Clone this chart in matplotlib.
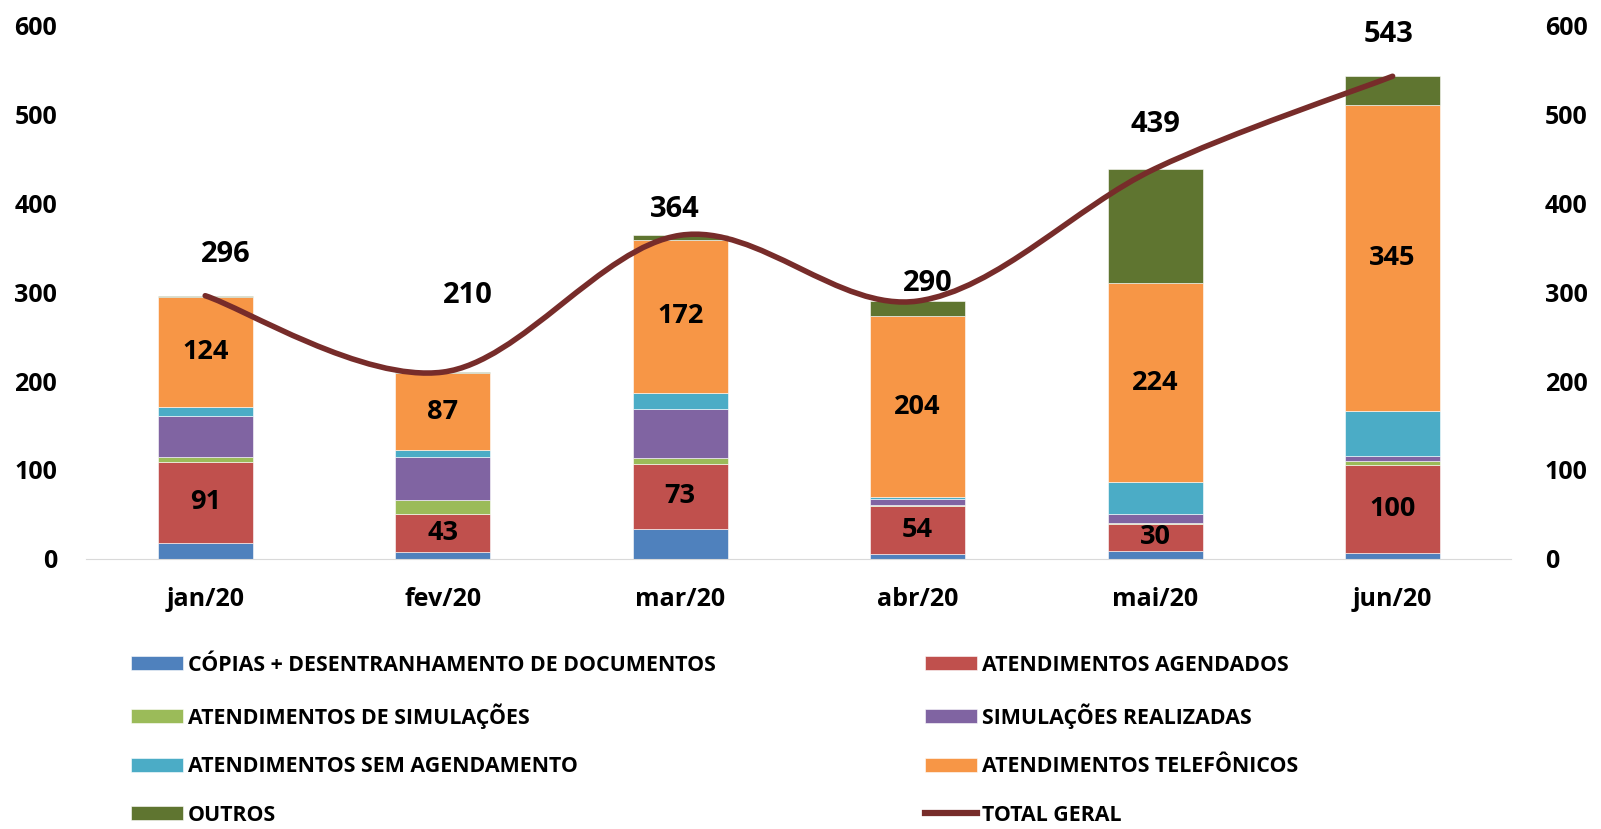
import numpy as np
import matplotlib.pyplot as plt
from matplotlib.path import Path
from matplotlib.patches import PathPatch
from matplotlib.lines import Line2D

plt.rcParams['font.family'] = ['Open Sans', 'DejaVu Sans']
plt.rcParams['font.weight'] = 'bold'

# dados
meses = ['jan/20', 'fev/20', 'mar/20', 'abr/20', 'mai/20', 'jun/20']
copias = [18, 7, 34, 5, 9, 6]
agendados = [91, 43, 73, 54, 30, 100]
atend_simulacoes = [6, 16, 6, 2, 1, 4]
simulacoes = [46, 48, 55, 6, 10, 6]
sem_agendamento = [10, 8, 19, 2, 36, 50]
telefonicos = [124, 87, 172, 204, 224, 345]
outros = [1, 1, 5, 17, 129, 32]
total_geral = [296, 210, 364, 290, 439, 543]

series = [
    ('CÓPIAS + DESENTRANHAMENTO DE DOCUMENTOS', copias, '#4F81BD', False),
    ('ATENDIMENTOS AGENDADOS', agendados, '#C0504D', True),
    ('ATENDIMENTOS DE SIMULAÇÕES', atend_simulacoes, '#9BBB59', False),
    ('SIMULAÇÕES REALIZADAS', simulacoes, '#8064A2', False),
    ('ATENDIMENTOS SEM AGENDAMENTO', sem_agendamento, '#4BACC6', False),
    ('ATENDIMENTOS TELEFÔNICOS', telefonicos, '#F79646', True),
    ('OUTROS', outros, '#5F7530', False),
]
cor_total = '#772C2A'

# deslocamento dos rótulos do total (em pontos)
offs_total = [(15, 30), (18, 55), (-4, 19), (7, 13), (0, 32), (-3, 30)]

fig = plt.figure(figsize=(16.01, 8.291), dpi=100)
ax = fig.add_axes([0.054, 0.326, 0.89, 0.643])

x = np.arange(len(meses))
base = np.zeros(len(meses))
handles = []
for nome, vals, cor, rotulo in series:
    vals = np.array(vals, dtype=float)
    bars = ax.bar(x, vals, 0.4, bottom=base, color=cor, edgecolor='white',
                  linewidth=0.4, label=nome, zorder=2)
    if rotulo:
        for xi, b, v in zip(x, base, vals):
            ax.text(xi, b + v / 2, f'{int(v)}', ha='center', va='center',
                    fontsize=19.5, fontweight='bold', color='black', zorder=4)
    handles.append(bars)
    base = base + vals

ax.set_xlim(-0.5, 5.5)
ax.set_ylim(0, 600)
ax.set_yticks(range(0, 601, 100))
ax.set_xticks(x)
ax.set_xticklabels(meses)
ax.tick_params(axis='both', length=0, labelsize=18)
ax.tick_params(axis='y', pad=21)
ax.tick_params(axis='x', pad=20)
for s in ['top', 'left', 'right']:
    ax.spines[s].set_visible(False)
ax.spines['bottom'].set_color('#D9D9D9')

ax2 = ax.twinx()
ax2.set_ylim(0, 600)
ax2.set_yticks(range(0, 601, 100))
ax2.tick_params(axis='y', length=0, labelsize=18, pad=24)
for s in ['top', 'left', 'right', 'bottom']:
    ax2.spines[s].set_visible(False)

# linha suavizada (Bezier tipo Catmull-Rom, como no Excel)
pts = np.column_stack([x, total_geral]).astype(float)
ext = np.vstack([pts[0], pts, pts[-1]])
verts = [tuple(pts[0])]
codes = [Path.MOVETO]
for i in range(len(pts) - 1):
    p0, p1, p2, p3 = ext[i], ext[i + 1], ext[i + 2], ext[i + 3]
    c1 = p1 + (p2 - p0) / 6
    c2 = p2 - (p3 - p1) / 6
    verts += [tuple(c1), tuple(c2), tuple(p2)]
    codes += [Path.CURVE4] * 3
ax2.add_patch(PathPatch(Path(verts, codes), facecolor='none', edgecolor=cor_total,
                        linewidth=4, capstyle='round', zorder=3))

for xi, v, off in zip(x, total_geral, offs_total):
    ax2.annotate(f'{v}', (xi, v), xytext=off, textcoords='offset points',
                 ha='center', va='center', fontsize=21, fontweight='bold')

linha = Line2D([], [], color=cor_total, linewidth=4.5)
leg_handles = handles + [linha]
leg_labels = [s[0] for s in series] + ['TOTAL GERAL']
# ordem por linhas (2 colunas)
ordem = [0, 2, 4, 6, 1, 3, 5, 7]
fig.legend([leg_handles[i] for i in ordem], [leg_labels[i] for i in ordem],
           ncol=2, loc='upper left', bbox_to_anchor=(0.082, 0.21),
           frameon=False, fontsize=15.4, handlelength=2.4, handleheight=0.62,
           handletextpad=0.25, labelspacing=1.28, columnspacing=9.8,
           borderaxespad=0, borderpad=0)

fig.savefig('out.png', dpi=100)
